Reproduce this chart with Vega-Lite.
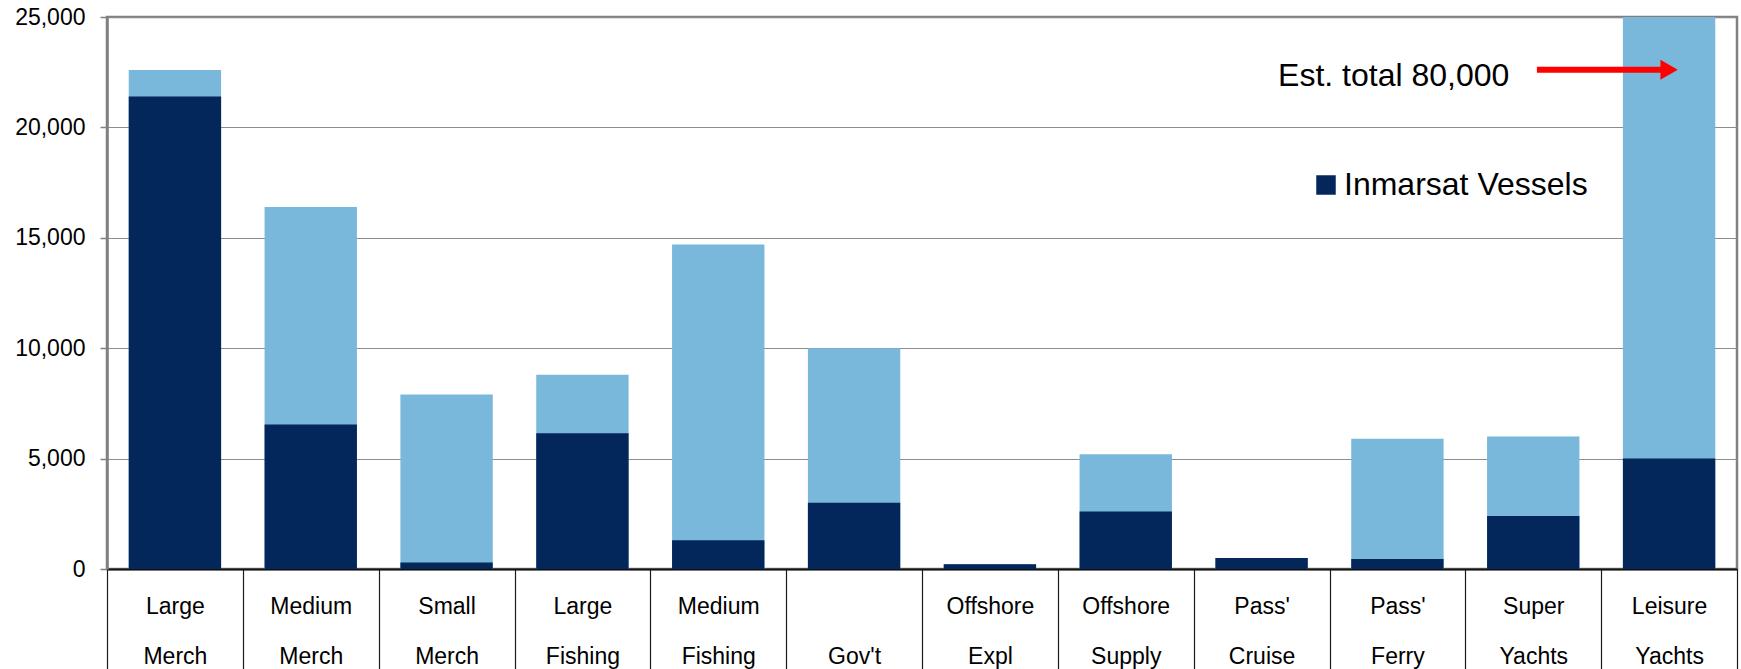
{
  "$schema": "https://vega.github.io/schema/vega-lite/v6.json",
  "autosize": "none",
  "padding": {"left": 107, "top": 17, "right": 4, "bottom": 100},
  "width": 1630,
  "height": 552,
  "background": "white",
  "config": {
    "font": "Liberation Sans",
    "view": {"stroke": "#808080", "strokeWidth": 2.5},
    "legend": {"padding": 0}
  },
  "data": {
    "values": [
      {"category": "Large Merch", "inmarsat": 21400, "total": 22600},
      {"category": "Medium Merch", "inmarsat": 6550, "total": 16400},
      {"category": "Small Merch", "inmarsat": 300, "total": 7900},
      {"category": "Large Fishing", "inmarsat": 6150, "total": 8800},
      {"category": "Medium Fishing", "inmarsat": 1300, "total": 14700},
      {"category": "Gov't", "inmarsat": 3000, "total": 10000},
      {"category": "Offshore Expl", "inmarsat": 220, "total": 220},
      {"category": "Offshore Supply", "inmarsat": 2600, "total": 5200},
      {"category": "Pass' Cruise", "inmarsat": 500, "total": 500},
      {"category": "Pass' Ferry", "inmarsat": 450, "total": 5900},
      {"category": "Super Yachts", "inmarsat": 2400, "total": 6000},
      {"category": "Leisure Yachts", "inmarsat": 5000, "total": 80000}
    ]
  },
  "encoding": {
    "x": {
      "field": "category",
      "type": "nominal",
      "sort": null,
      "scale": {
        "domain": ["Large Merch", "Medium Merch", "Small Merch", "Large Fishing", "Medium Fishing", "Gov't", "Offshore Expl", "Offshore Supply", "Pass' Cruise", "Pass' Ferry", "Super Yachts", "Leisure Yachts"],
        "paddingInner": 0,
        "paddingOuter": 0
      },
      "axis": {
        "title": null,
        "labelAngle": 0,
        "labelExpr": "indexof(datum.label, ' ') < 0 ? ['', datum.label] : split(datum.label, ' ')",
        "labelFontSize": 23,
        "labelColor": "#000000",
        "labelBaseline": "alphabetic",
        "labelAlign": "center",
        "labelLineHeight": 50,
        "labelPadding": -56,
        "labelOverlap": false,
        "labelBound": false,
        "tickBand": "extent",
        "tickSize": 100,
        "tickColor": "#1a1a1a",
        "tickWidth": 1.2,
        "domainColor": "#111111",
        "domainWidth": 2,
        "grid": false
      }
    }
  },
  "layer": [
    {
      "mark": {"type": "bar", "color": "#7AB8DB", "clip": true, "width": {"band": 0.68}},
      "encoding": {
        "y": {
          "field": "total",
          "type": "quantitative",
          "scale": {"domain": [0, 25000], "nice": false},
          "axis": {
            "title": null,
            "values": [0, 5000, 10000, 15000, 20000, 25000],
            "format": ",d",
            "labelFontSize": 23,
            "labelColor": "#000000",
            "labelPadding": 15,
            "tickSize": 7,
            "tickColor": "#808080",
            "tickWidth": 1.5,
            "domainColor": "#808080",
            "domainWidth": 2.5,
            "grid": true,
            "gridColor": "#8c8c8c",
            "gridWidth": 1
          }
        }
      }
    },
    {
      "mark": {"type": "bar", "width": {"band": 0.68}},
      "encoding": {
        "y": {"field": "inmarsat", "type": "quantitative"},
        "color": {
          "datum": "Inmarsat Vessels",
          "type": "nominal",
          "scale": {"range": ["#03275A"]},
          "legend": {
            "title": null,
            "orient": "none",
            "legendX": 1203,
            "legendY": 152,
            "symbolType": "square",
            "symbolSize": 380,
            "symbolStrokeWidth": 0,
            "labelFontSize": 32,
            "labelColor": "#000000",
            "labelOffset": 2,
            "labelLimit": 400
          }
        }
      }
    },
    {
      "data": {"values": [{"note": "Est. total 80,000"}]},
      "mark": {"type": "text", "fontSize": 32, "align": "right", "baseline": "alphabetic", "color": "#000000"},
      "encoding": {
        "text": {"field": "note", "type": "nominal"},
        "x": {"datum": "Super Yachts", "type": "nominal", "bandPosition": 0.324},
        "y": {"datum": 21890, "type": "quantitative"}
      }
    },
    {
      "data": {"values": [{"note": "arrow"}]},
      "mark": {"type": "rule", "color": "#FF0000", "strokeWidth": 6},
      "encoding": {
        "x": {"datum": "Super Yachts", "type": "nominal", "bandPosition": 0.527},
        "x2": {"datum": "Leisure Yachts", "bandPosition": 0.5},
        "y": {"datum": 22610, "type": "quantitative"}
      }
    },
    {
      "data": {"values": [{"note": "arrowhead"}]},
      "mark": {"type": "point", "shape": "triangle-right", "filled": true, "size": 400, "color": "#FF0000", "opacity": 1},
      "encoding": {
        "x": {"datum": "Leisure Yachts", "type": "nominal"},
        "y": {"datum": 22610, "type": "quantitative"}
      }
    }
  ]
}
